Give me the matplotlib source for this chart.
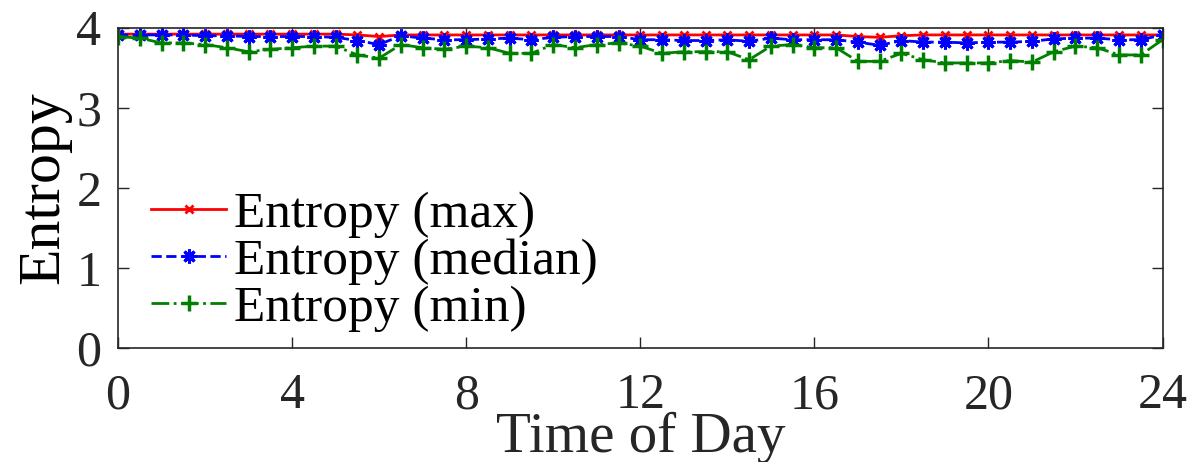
import numpy as np
import matplotlib
matplotlib.use("Agg")
import matplotlib.pyplot as plt

plt.rcParams['font.family'] = ['Liberation Serif', 'DejaVu Serif']

hours = np.arange(0, 24.5, 0.5)

ent_max = [3.92, 3.92, 3.92, 3.92, 3.92, 3.92, 3.92, 3.92, 3.92, 3.92,
           3.92, 3.91, 3.89, 3.91, 3.91, 3.91, 3.91, 3.91, 3.91, 3.91,
           3.91, 3.91, 3.91, 3.91, 3.91, 3.91, 3.91, 3.91, 3.91, 3.91,
           3.91, 3.91, 3.91, 3.91, 3.89, 3.88, 3.90, 3.91, 3.91, 3.91,
           3.91, 3.91, 3.91, 3.91, 3.91, 3.91, 3.91, 3.91, 3.91]

ent_median = [3.91, 3.91, 3.91, 3.91, 3.90, 3.90, 3.89, 3.89, 3.89, 3.89,
              3.88, 3.84, 3.79, 3.90, 3.87, 3.85, 3.85, 3.86, 3.87, 3.85,
              3.88, 3.89, 3.89, 3.89, 3.85, 3.85, 3.84, 3.84, 3.85, 3.83,
              3.87, 3.85, 3.85, 3.85, 3.82, 3.78, 3.84, 3.82, 3.82, 3.81,
              3.82, 3.82, 3.83, 3.86, 3.87, 3.87, 3.85, 3.85, 3.91]

ent_min = [3.89, 3.87, 3.81, 3.81, 3.79, 3.75, 3.70, 3.73, 3.75, 3.77,
           3.77, 3.66, 3.62, 3.79, 3.75, 3.73, 3.77, 3.75, 3.68, 3.68,
           3.79, 3.75, 3.79, 3.81, 3.77, 3.68, 3.70, 3.70, 3.70, 3.60,
           3.77, 3.79, 3.75, 3.75, 3.58, 3.58, 3.68, 3.60, 3.56, 3.56,
           3.56, 3.59, 3.57, 3.70, 3.77, 3.75, 3.66, 3.66, 3.85]

fig = plt.figure(figsize=(11.91, 4.62), dpi=100)
ax = fig.add_axes([0.0991, 0.2468, 0.8770, 0.6932])

ax.plot(hours, ent_max, '-', color='red', marker='x', markersize=6,
        markeredgewidth=2, linewidth=2, label='Entropy (max)')
ax.plot(hours, ent_median, '--', color='blue', marker=(8, 2, 0), markersize=10,
        markeredgewidth=2.2, linewidth=2, label='Entropy (median)')
ax.plot(hours, ent_min, '-.', color='green', marker='+', markersize=11,
        markeredgewidth=2.5, linewidth=2, label='Entropy (min)')

ax.set_xlim(0, 24)
ax.set_ylim(0, 4)
ax.set_xticks([0, 4, 8, 12, 16, 20, 24])
ax.set_yticks([0, 1, 2, 3, 4])

for s in ax.spines.values():
    s.set_color('#262626')
    s.set_linewidth(1.2)
ax.tick_params(direction='in', length=8, width=1, color='#262626',
               top=True, right=True, labelsize=36, labelcolor='#262626')
ax.tick_params(axis='x', pad=18)
ax.tick_params(axis='y', pad=12)

ax.set_xlabel('Time of Day', fontsize=41, color='#262626')
ax.xaxis.set_label_coords(0.5, -0.2)
ax.xaxis.label.set_va('top')
ax.set_ylabel('Entropy', fontsize=43, color='black')
ax.yaxis.set_label_coords(-0.045, 0.5)

ax.legend(loc='lower left', bbox_to_anchor=(0.0, -0.055), frameon=False,
          fontsize=37, handlelength=1.45, handletextpad=0.15,
          labelspacing=0.0, borderaxespad=0.25)

fig.savefig('out.png', dpi=100)
